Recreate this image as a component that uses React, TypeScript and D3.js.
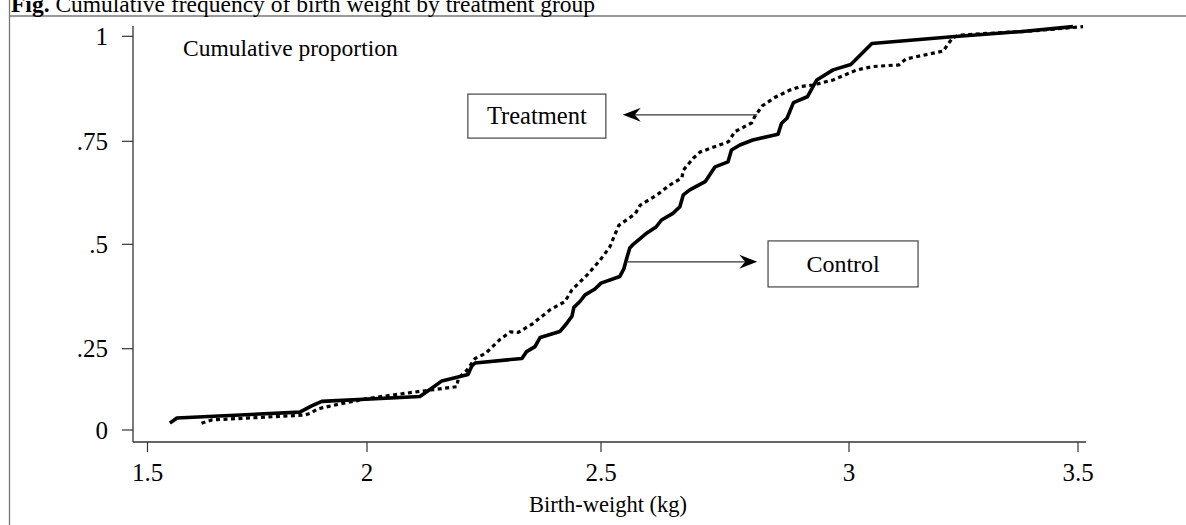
import React from "react";
import * as d3 from "d3";

const xTicks = [1.5, 2, 2.5, 3, 3.5];
const xTickLabels = ["1.5", "2", "2.5", "3", "3.5"];
const yTicks = [0, 0.25, 0.5, 0.75, 1];
const yTickLabels = ["0", ".25", ".5", ".75", "1"];

// Control group (solid line): [birth weight kg, cumulative proportion]
const controlSeries: [number, number][] = [
  [1.551, 0.021], [1.567, 0.037], [1.847, 0.055], [1.874, 0.074], [1.897, 0.088],
  [2.113, 0.103], [2.139, 0.129], [2.16, 0.151], [2.216, 0.171], [2.224, 0.197],
  [2.231, 0.206], [2.331, 0.22], [2.341, 0.241], [2.359, 0.255], [2.37, 0.277],
  [2.412, 0.291], [2.427, 0.311], [2.438, 0.328], [2.442, 0.349], [2.455, 0.363],
  [2.466, 0.379], [2.487, 0.393], [2.5, 0.407], [2.538, 0.423], [2.546, 0.441],
  [2.552, 0.467], [2.558, 0.491], [2.565, 0.5], [2.592, 0.527], [2.611, 0.542],
  [2.622, 0.559], [2.645, 0.575], [2.659, 0.591], [2.666, 0.62], [2.679, 0.632],
  [2.71, 0.652], [2.73, 0.688], [2.756, 0.7], [2.763, 0.729], [2.78, 0.741],
  [2.806, 0.753], [2.857, 0.767], [2.864, 0.793], [2.875, 0.805], [2.888, 0.842],
  [2.916, 0.856], [2.935, 0.896], [2.968, 0.92], [3.004, 0.933], [3.05, 0.983],
  [3.225, 0.999], [3.373, 1.011], [3.489, 1.023],
];

// Treatment group (dotted line)
const treatmentSeries: [number, number][] = [
  [1.623, 0.021], [1.647, 0.031], [1.859, 0.046], [1.87, 0.051], [1.888, 0.065],
  [1.938, 0.08], [2.006, 0.098], [2.109, 0.118], [2.13, 0.122], [2.192, 0.133],
  [2.195, 0.159], [2.213, 0.183], [2.231, 0.22], [2.254, 0.236], [2.284, 0.272],
  [2.306, 0.29], [2.323, 0.289], [2.353, 0.309], [2.391, 0.343], [2.423, 0.363],
  [2.438, 0.391], [2.47, 0.426], [2.498, 0.462], [2.518, 0.494], [2.526, 0.518],
  [2.536, 0.546], [2.569, 0.574], [2.579, 0.595], [2.613, 0.62], [2.639, 0.644],
  [2.663, 0.661], [2.666, 0.68], [2.686, 0.709], [2.7, 0.724], [2.757, 0.749],
  [2.77, 0.773], [2.804, 0.794], [2.81, 0.809], [2.825, 0.834], [2.851, 0.855],
  [2.881, 0.872], [2.901, 0.88], [2.927, 0.884], [2.968, 0.896], [3.017, 0.92],
  [3.052, 0.928], [3.109, 0.932], [3.124, 0.946], [3.206, 0.965], [3.217, 0.983],
  [3.227, 0.997], [3.242, 1.003], [3.402, 1.013], [3.511, 1.023],
];

// Annotations (data units): label box centre, arrow start, arrow end
const annotationLabels = ["Treatment", "Control"];
const annotationBoxCentres: [number, number][] = [[2.363, 0.81], [2.988, 0.453]];
const annotationArrowFrom: [number, number][] = [[2.815, 0.813], [2.554, 0.458]];
const annotationArrowTo: [number, number][] = [[2.544, 0.813], [2.815, 0.458]];
const annotationBoxSizes: [number, number][] = [[138, 44], [150, 46]];
const annotationFontSizes = [24.5, 24];

const title = "Cumulative frequency of birth weight by treatment group";
const yAxisTitle = "Cumulative proportion";
const xAxisTitle = "Birth-weight (kg)";

const FONT = "'Liberation Serif', 'Times New Roman', serif";

export default function App() {
  const W = 1186;
  const H = 525;
  const x = d3.scaleLinear().domain(xTicks).range([147.5, 367, 601, 849, 1078]);
  const y = d3.scaleLinear().domain(yTicks).range([430, 348.7, 244.3, 141.3, 36.3]);
  const axisX = 133;
  const axisY = 442;

  const line = d3
    .line<[number, number]>()
    .x((d) => x(d[0]))
    .y((d) => y(d[1]));

  const arrowHead = (tx: number, ty: number, dir: number) => {
    const L = 18;
    const Wd = 7;
    const notch = 12;
    const bx = tx - dir * L;
    const nx = tx - dir * notch;
    return `M${tx},${ty} L${bx},${ty - Wd} L${nx},${ty} L${bx},${ty + Wd} Z`;
  };

  return (
    <svg
      width={W}
      height={H}
      style={{ position: "absolute", left: 0, top: 0, background: "#fff" }}
      fontFamily={FONT}
    >
      <rect x={0} y={0} width={W} height={H} fill="#fff" />
      {/* frame */}
      <line x1={9.5} y1={0} x2={9.5} y2={H} stroke="#777" strokeWidth={1.3} />
      <line x1={9} y1={16} x2={W} y2={16} stroke="#777" strokeWidth={1.3} />
      <text x={11} y={12} fontSize={23.5} fill="#000">
        <tspan fontWeight="bold">Fig.</tspan>
        <tspan> {title}</tspan>
      </text>

      {/* axes */}
      <line x1={axisX} y1={26} x2={axisX} y2={axisY} stroke="#333" strokeWidth={1.3} />
      <line x1={axisX} y1={axisY} x2={1086} y2={axisY} stroke="#333" strokeWidth={1.3} />
      {yTicks.map((t, i) => (
        <g key={"y" + i}>
          <line x1={axisX - 11} x2={axisX} y1={y(t)} y2={y(t)} stroke="#333" strokeWidth={1.2} />
          <text x={108} y={y(t) + 8.5} fontSize={25} textAnchor="end" fill="#000">
            {yTickLabels[i]}
          </text>
        </g>
      ))}
      {xTicks.map((t, i) => (
        <g key={"x" + i}>
          <line x1={x(t)} x2={x(t)} y1={axisY} y2={axisY + 10} stroke="#333" strokeWidth={1.2} />
          <text x={x(t)} y={481} fontSize={25} textAnchor="middle" fill="#000">
            {xTickLabels[i]}
          </text>
        </g>
      ))}
      <text x={608} y={512} fontSize={22.5} textAnchor="middle" fill="#000">
        {xAxisTitle}
      </text>
      <text x={183} y={56} fontSize={23.5} fill="#000">
        {yAxisTitle}
      </text>

      {/* series */}
      <path
        d={line(treatmentSeries) || ""}
        fill="none"
        stroke="#000"
        strokeWidth={3.2}
        strokeDasharray="4,3.5"
      />
      <path
        d={line(controlSeries) || ""}
        fill="none"
        stroke="#000"
        strokeWidth={3.6}
        strokeLinejoin="round"
      />

      {/* annotations */}
      {annotationLabels.map((lab, i) => {
        const [cx, cy] = annotationBoxCentres[i];
        const [bw, bh] = annotationBoxSizes[i];
        const px = x(cx);
        const py = y(cy);
        const fx = x(annotationArrowFrom[i][0]);
        const fy = y(annotationArrowFrom[i][1]);
        const tx = x(annotationArrowTo[i][0]);
        const ty = y(annotationArrowTo[i][1]);
        const dir = tx > fx ? 1 : -1;
        const fs = annotationFontSizes[i];
        return (
          <g key={"a" + i}>
            <rect
              x={px - bw / 2}
              y={py - bh / 2}
              width={bw}
              height={bh}
              fill="#fff"
              stroke="#444"
              strokeWidth={1.2}
            />
            <text x={px} y={py + fs * 0.33} fontSize={fs} textAnchor="middle" fill="#000">
              {lab}
            </text>
            <line x1={fx} y1={fy} x2={tx - dir * 12} y2={ty} stroke="#333" strokeWidth={1.2} />
            <path d={arrowHead(tx, ty, dir)} fill="#000" />
          </g>
        );
      })}
    </svg>
  );
}
